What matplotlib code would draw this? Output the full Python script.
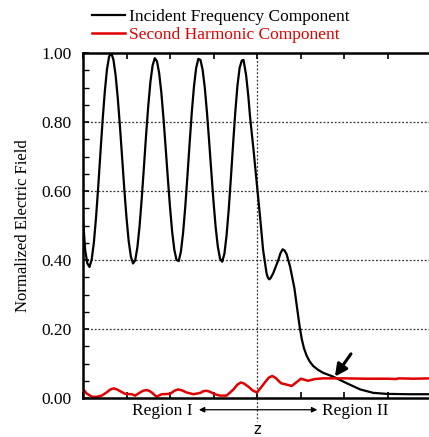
import numpy as np
import matplotlib.pyplot as plt
from matplotlib.ticker import MultipleLocator

plt.rcParams['font.family'] = ['Liberation Serif', 'DejaVu Serif']

# Incident frequency component
x_inc = [0.00, 0.05, 0.10, 0.15, 0.20, 0.25, 0.30, 0.35, 0.40, 0.45,
         0.50, 0.55, 0.60, 0.65, 0.70, 0.75, 0.80, 0.85, 0.90, 0.95,
         1.00, 1.05, 1.10, 1.15, 1.20, 1.25, 1.30, 1.35, 1.40, 1.45,
         1.50, 1.55, 1.60, 1.65, 1.70, 1.75, 1.80, 1.85, 1.90, 1.95,
         2.00, 2.05, 2.10, 2.15, 2.20, 2.25, 2.30, 2.35, 2.40, 2.45,
         2.50, 2.55, 2.60, 2.65, 2.70, 2.75, 2.80, 2.85, 2.90, 2.95,
         3.00, 3.05, 3.10, 3.15, 3.20, 3.25, 3.30, 3.35, 3.40, 3.45,
         3.50, 3.55, 3.60, 3.65, 3.69, 3.75, 3.80, 3.84, 3.92, 3.98,
         4.01, 4.07, 4.14, 4.22, 4.25, 4.28, 4.31, 4.37, 4.49, 4.54,
         4.59, 4.63, 4.68, 4.76, 4.86, 4.92, 4.98, 5.03, 5.08, 5.14,
         5.21, 5.29, 5.40, 5.52, 5.75, 6.06, 6.37, 6.67, 6.98, 7.50,
         8.00]
y_inc = [0.520, 0.428, 0.390, 0.380, 0.402, 0.451, 0.524, 0.613, 0.710, 0.804,
         0.887, 0.952, 0.990, 1.000, 0.980, 0.935, 0.868, 0.786, 0.695, 0.604,
         0.522, 0.455, 0.410, 0.390, 0.399, 0.437, 0.498, 0.578, 0.669, 0.762,
         0.847, 0.917, 0.964, 0.985, 0.976, 0.942, 0.886, 0.811, 0.725, 0.637,
         0.553, 0.481, 0.429, 0.400, 0.397, 0.424, 0.478, 0.553, 0.643, 0.737,
         0.827, 0.902, 0.956, 0.983, 0.980, 0.951, 0.899, 0.827, 0.743, 0.655,
         0.569, 0.494, 0.438, 0.404, 0.395, 0.418, 0.471, 0.547, 0.639, 0.736,
         0.828, 0.905, 0.957, 0.978, 0.980, 0.935, 0.875, 0.815, 0.719, 0.641,
         0.603, 0.525, 0.429, 0.361, 0.349, 0.344, 0.347, 0.361, 0.400, 0.420,
         0.431, 0.428, 0.417, 0.381, 0.318, 0.262, 0.207, 0.170, 0.144, 0.123,
         0.106, 0.093, 0.082, 0.073, 0.062, 0.043, 0.025, 0.015, 0.012, 0.011,
         0.011]

# Second harmonic component
x_sh = [0.00, 0.085, 0.20, 0.30, 0.43, 0.54, 0.62, 0.70, 0.78, 0.85,
        0.97, 1.12, 1.20, 1.31, 1.38, 1.46, 1.52, 1.58, 1.69, 1.81,
        2.00, 2.10, 2.19, 2.28, 2.38, 2.54, 2.70, 2.77, 2.84, 2.92,
        3.03, 3.15, 3.30, 3.46, 3.55, 3.63, 3.70, 3.80, 3.90, 4.00,
        4.10, 4.18, 4.27, 4.35, 4.43, 4.55, 4.80, 5.01, 5.17, 5.33,
        5.52, 6.00, 6.50, 7.00, 7.20, 7.25, 7.60, 8.00]
y_sh = [0.026, 0.013, 0.004, 0.003, 0.007, 0.016, 0.024, 0.028, 0.025, 0.020,
        0.012, 0.011, 0.007, 0.016, 0.021, 0.023, 0.021, 0.016, 0.004, 0.011,
        0.012, 0.021, 0.025, 0.022, 0.016, 0.011, 0.015, 0.020, 0.021, 0.018,
        0.011, 0.007, 0.007, 0.025, 0.039, 0.045, 0.042, 0.033, 0.022, 0.016,
        0.032, 0.045, 0.059, 0.064, 0.058, 0.043, 0.035, 0.056, 0.050, 0.055,
        0.057, 0.057, 0.056, 0.056, 0.055, 0.057, 0.056, 0.057]

y_ticks = [0.0, 0.2, 0.4, 0.6, 0.8, 1.0]
z_pos = 4.0

fig = plt.figure(figsize=(4.29, 4.37), dpi=100)
ax = fig.add_axes([0.1935, 0.0892, 0.8112, 0.7895])

ax.plot(x_inc, y_inc, color='black', lw=1.6, solid_joinstyle='round',
        label='Incident Frequency Component')
ax.plot(x_sh, y_sh, color='#e00000', lw=1.8, solid_joinstyle='round',
        label='Second Harmonic Component')

ax.set_xlim(0, 8)
ax.set_ylim(0, 1.0)
ax.set_yticks(y_ticks)
ax.set_yticklabels(['%.2f' % v for v in y_ticks])
ax.yaxis.set_minor_locator(MultipleLocator(0.05))
ax.xaxis.set_major_locator(MultipleLocator(1))
ax.tick_params(axis='x', which='both', direction='in', top=True, bottom=True,
               length=4, width=1.2, labelbottom=False)
ax.tick_params(axis='y', which='major', direction='in', left=True, right=False,
               length=4, width=1.2, labelsize=12.5, pad=8)
ax.tick_params(axis='y', which='minor', direction='in', length=4, width=1.0)
for s in ['left', 'bottom', 'top']:
    ax.spines[s].set_linewidth(1.8)
ax.spines['right'].set_visible(False)

# dotted grid
for v in y_ticks[1:-1]:
    ax.axhline(v, color='#333333', lw=0.9, ls=(0, (1.5, 1.5)), zorder=0)
ax.plot([z_pos, z_pos], [1.0, -0.067], color='#333333', lw=0.9,
        ls=(0, (1.5, 1.5)), clip_on=False, zorder=0)

ax.set_ylabel('Normalized Electric Field', fontsize=12, labelpad=8)

ax.annotate('', xy=(5.79, 0.062), xytext=(6.16, 0.128),
            arrowprops=dict(arrowstyle='-|>', color='black', lw=2.2,
                            mutation_scale=18, shrinkA=0, shrinkB=0))

ax.annotate('', xy=(2.6, -0.034), xytext=(5.45, -0.034),
            arrowprops=dict(arrowstyle='<|-|>', color='black', lw=0.9,
                            mutation_scale=8), annotation_clip=False)
ax.text(2.52, -0.038, 'Region I', ha='right', va='center', fontsize=12.5)
ax.text(5.49, -0.038, 'Region II', ha='left', va='center', fontsize=12.5)
ax.text(z_pos, -0.104, 'z', ha='center', va='baseline', fontsize=10.5,
        family='DejaVu Sans')

leg = ax.legend(loc='lower left', bbox_to_anchor=(0.026, 1.03),
                frameon=False, fontsize=12.5, handlelength=1.9,
                handletextpad=0.2, labelspacing=0.1, borderpad=0,
                borderaxespad=0, labelcolor=['black', '#e00000'])

fig.savefig('out.png', dpi=100)
